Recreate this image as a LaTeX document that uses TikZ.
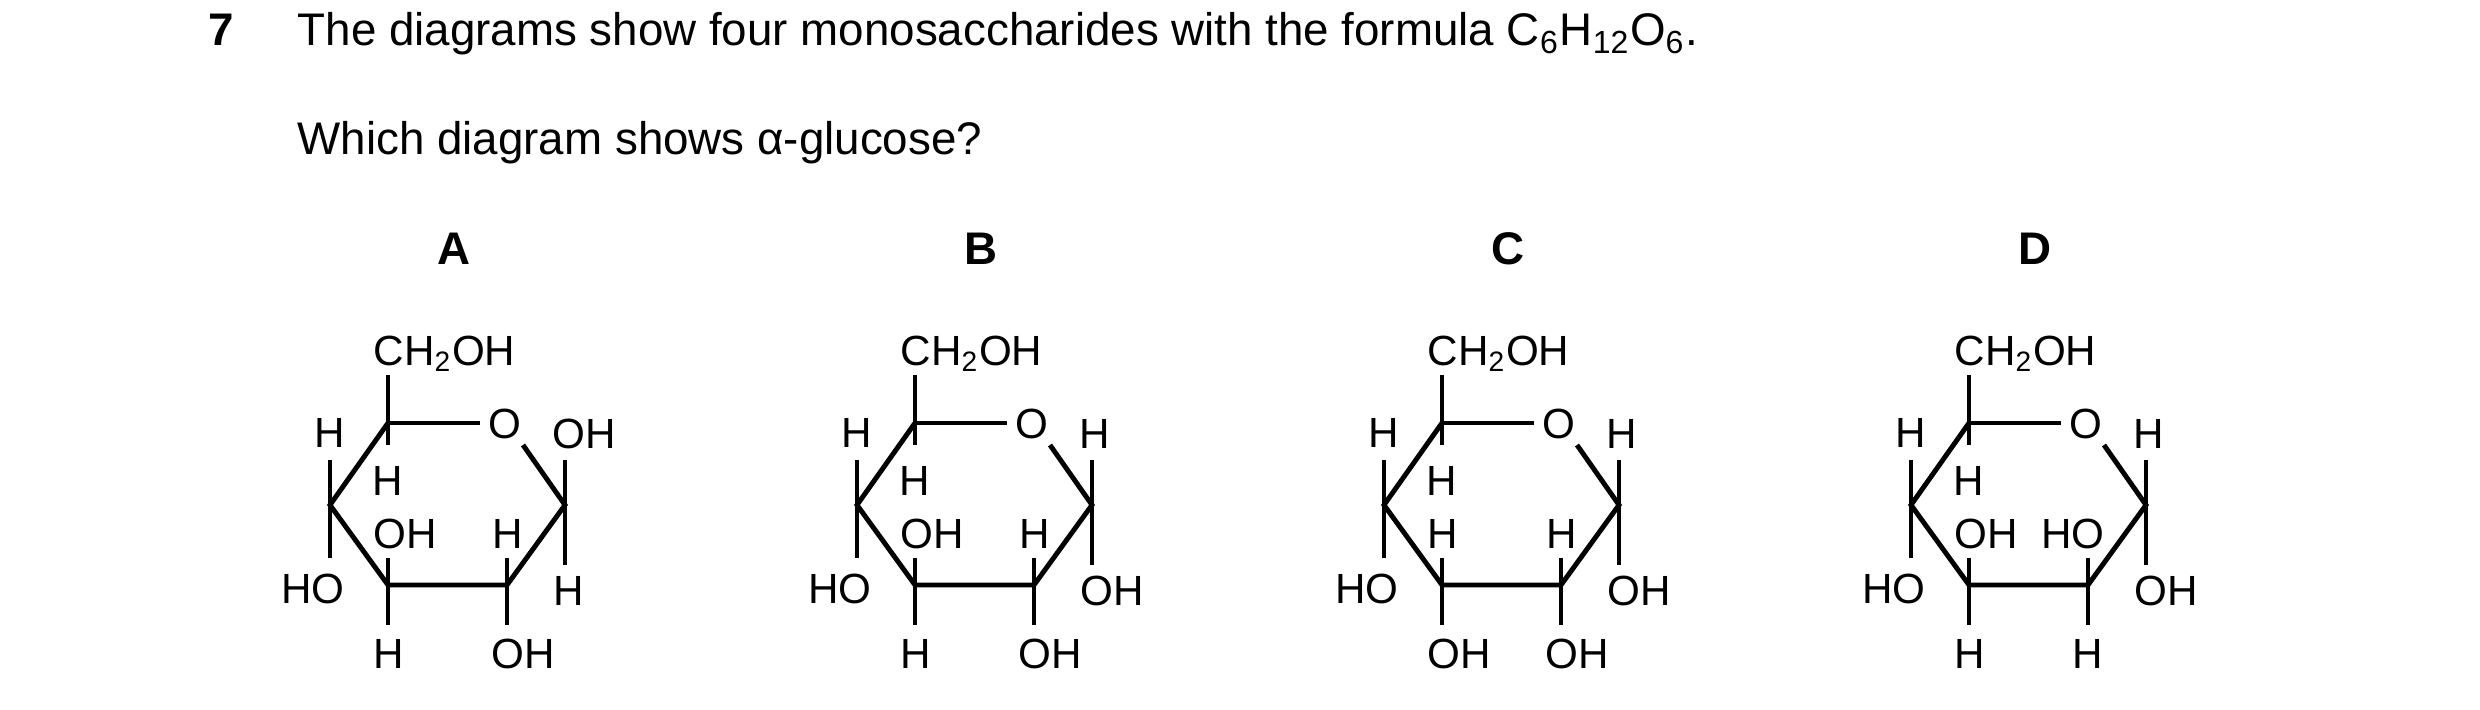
\documentclass[tikz,border=0pt]{standalone}
\usepackage{fontspec}
\setmainfont{Liberation Sans}
\newcommand{\sugar}[8]{%
  % #1 offset, #2 letter, #3 C1 up, #4 C1 down, #5 C2 up, #6 C2 down, #7 C3 up, #8 C3 down
  \begin{scope}[xshift=#1*0.01cm]
    \node[head] (lab#2) at (454,248) {#2};
    \coordinate (c5#2) at (388,423);
    \coordinate (o#2) at (505,423);
    \coordinate (c1#2) at (565,505);
    \coordinate (c2#2) at (507,585);
    \coordinate (c3#2) at (388,585);
    \coordinate (c4#2) at (330,505);
    \node[lbl] (ox#2) at (o#2) {O};
    \draw[bond] (c5#2) -- (480,423);
    \draw[bond] (523,445) -- (c1#2) -- (c2#2) -- (c3#2) -- (c4#2) -- (c5#2);
    \draw[bond] (388,375) -- (388,445);
    \draw[bond] (330,460) -- (330,558);
    \draw[bond] (565,460) -- (565,565);
    \draw[bond] (388,558) -- (388,625);
    \draw[bond] (507,558) -- (507,625);
    \node[lbl,anchor=west] (ch#2) at (373,350) {CH\textsubscript{2}OH};
    \node[lbl] (h4#2) at (330,432) {H};
    \node[lbl,anchor=east] (ho4#2) at (345,588) {HO};
    \node[lbl] (h5#2) at (388,480) {H};
    \node[lbl,anchor=west] (u1#2) at (552,433) {#3};
    \node[lbl,anchor=west] (d1#2) at (553,590) {#4};
    \node[lbl,anchor=east] (u2#2) at (524,533) {#5};
    \node[lbl,anchor=west] (d2#2) at (491,653) {#6};
    \node[lbl,anchor=west] (u3#2) at (373,533) {#7};
    \node[lbl,anchor=west] (d3#2) at (373,653) {#8};
  \end{scope}}
\begin{document}
\begin{tikzpicture}[x=0.01cm,y=-0.01cm,
  bond/.style={line width=1.4pt},
  lbl/.style={inner sep=0pt,text height=8.6pt,text depth=0pt,font=\fontsize{12}{14}\selectfont},
  head/.style={inner sep=0pt,text height=9.4pt,text depth=0pt,font=\fontsize{13}{15}\selectfont\bfseries}]
  \useasboundingbox (0,0) rectangle (2480,710);
  \node[anchor=base west,inner sep=0pt,font=\fontsize{13}{15}\selectfont\bfseries] (num) at (208,46) {7};
  \node[anchor=base west,inner sep=0pt,font=\fontsize{13}{15}\selectfont] (q1) at (297,46)
    {The diagrams show four monosaccharides with the formula C\textsubscript{6}H\textsubscript{12}O\textsubscript{6}.};
  \node[anchor=base west,inner sep=0pt,font=\fontsize{13}{15}\selectfont] (q2) at (297,155)
    {Which diagram shows α-glucose?};
  \sugar{0}{A}{OH}{H}{H}{OH}{OH}{H}
  \sugar{527}{B}{H}{OH}{H}{OH}{OH}{H}
  \sugar{1054}{C}{H}{OH}{H}{OH}{H}{OH}
  \sugar{1581}{D}{H}{OH}{HO}{H}{OH}{H}
\end{tikzpicture}
\end{document}
